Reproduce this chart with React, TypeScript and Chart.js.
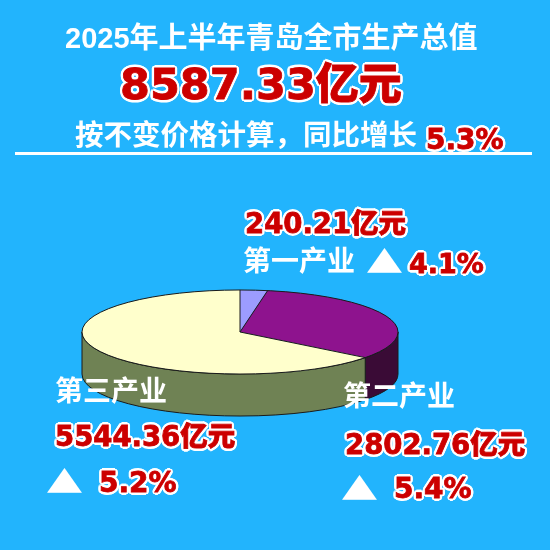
import React, { useEffect, useRef } from "react";
import { Chart, registerables } from "chart.js";

Chart.register(...registerables);

// 2025 H1 Qingdao GDP by sector (100 million yuan), growth in %
const sectors = ["第一产业", "第二产业", "第三产业"];
const values = [240.21, 2802.76, 5544.36];
const growth = [4.1, 5.4, 5.2];
const totalValue = 8587.33;
const totalGrowth = 5.3;

const topColors = ["#9C9CFF", "#8E138E", "#FFFFCC"];
const sideColors = ["#4E4E80", "#3A0B36", "#6F8254"];

const BG = "#22B4FD";
const RED = "#CC0000";
const WHITE_FONT = '"Liberation Sans", Arial, "Noto Sans CJK SC", sans-serif';
const RED_FONT = '"DejaVu Sans", "Noto Sans CJK SC", sans-serif';

// Draws the pie as a tilted disc: rim walls first, then the library's arcs
// squashed vertically, then crisp outlines on top.
const pie3d = {
  id: "pie3d",
  beforeDatasetsDraw(chart: any, _args: any, opts: any) {
    const meta = chart.getDatasetMeta(0);
    const ctx: CanvasRenderingContext2D = chart.ctx;
    const arcs = meta.data;
    if (!arcs.length) return;
    const { x: cx, y: cy, outerRadius: r } = arcs[0].getProps(["x", "y", "outerRadius"], true);
    const ry = r * opts.tilt;
    const depth = opts.depth;
    arcs.forEach((arc: any, i: number) => {
      const { startAngle, endAngle } = arc.getProps(["startAngle", "endAngle"], true);
      for (const shift of [-2 * Math.PI, 0, 2 * Math.PI]) {
        const a = Math.max(startAngle, shift);
        const b = Math.min(endAngle, shift + Math.PI);
        if (b <= a) continue;
        ctx.save();
        ctx.beginPath();
        ctx.ellipse(cx, cy, r, ry, 0, a, b, false);
        ctx.ellipse(cx, cy + depth, r, ry, 0, b, a, true);
        ctx.closePath();
        ctx.fillStyle = opts.sideColors[i];
        ctx.fill();
        ctx.strokeStyle = opts.edge;
        ctx.lineWidth = 1;
        ctx.stroke();
        ctx.restore();
      }
    });
    ctx.save();
    ctx.translate(cx, cy);
    ctx.scale(1, opts.tilt);
    ctx.translate(-cx, -cy);
  },
  afterDatasetsDraw(chart: any, _args: any, opts: any) {
    const ctx: CanvasRenderingContext2D = chart.ctx;
    ctx.restore();
    const meta = chart.getDatasetMeta(0);
    const arcs = meta.data;
    if (!arcs.length) return;
    const { x: cx, y: cy, outerRadius: r } = arcs[0].getProps(["x", "y", "outerRadius"], true);
    const ry = r * opts.tilt;
    ctx.save();
    ctx.strokeStyle = opts.edge;
    ctx.lineWidth = 1;
    ctx.beginPath();
    ctx.ellipse(cx, cy, r, ry, 0, 0, Math.PI * 2);
    ctx.stroke();
    arcs.forEach((arc: any) => {
      const { startAngle } = arc.getProps(["startAngle"], true);
      ctx.beginPath();
      ctx.moveTo(cx, cy);
      ctx.lineTo(cx + r * Math.cos(startAngle), cy + ry * Math.sin(startAngle));
      ctx.stroke();
    });
    ctx.restore();
  },
};

const outline = (w: number) => {
  const parts: string[] = [];
  const steps = 16;
  for (let k = 0; k < steps; k++) {
    const t = (k / steps) * Math.PI * 2;
    parts.push(`${(w * Math.cos(t)).toFixed(2)}px ${(w * Math.sin(t)).toFixed(2)}px 0 #fff`);
  }
  return parts.join(", ");
};

const redStyle = (size: number): React.CSSProperties => ({
  color: RED,
  fontSize: size,
  fontWeight: 900,
  fontFamily: RED_FONT,
  WebkitTextStroke: `0.8px ${RED}`,
  textShadow: outline(2.6),
});

const whiteStyle = (size: number): React.CSSProperties => ({
  color: "#fff",
  fontSize: size,
  fontWeight: 700,
  fontFamily: WHITE_FONT,
});

const abs = (left: number, top: number, extra: React.CSSProperties = {}): React.CSSProperties => ({
  position: "absolute",
  left,
  top,
  lineHeight: 1,
  whiteSpace: "nowrap",
  ...extra,
});

const tri: React.CSSProperties = {
  color: "#fff",
  fontSize: 37,
  fontFamily: '"Noto Sans CJK SC", sans-serif',
  transform: "scaleY(0.82)",
  transformOrigin: "50% 50%",
};

export default function App() {
  const canvasRef = useRef<HTMLCanvasElement | null>(null);

  useEffect(() => {
    const canvas = canvasRef.current;
    if (!canvas) return;
    const chart = new Chart(canvas, {
      type: "pie",
      data: {
        labels: sectors,
        datasets: [
          {
            data: values,
            backgroundColor: topColors,
            borderWidth: 0,
            clip: false,
          } as any,
        ],
      },
      options: {
        responsive: false,
        animation: false,
        events: [],
        layout: { padding: { left: 82, right: 152, top: 174, bottom: 60 } },
        plugins: {
          legend: { display: false },
          tooltip: { enabled: false },
          pie3d: { tilt: 0.266, depth: 42, sideColors, edge: "#1a1a1a" },
        } as any,
      },
      plugins: [pie3d],
    });
    return () => chart.destroy();
  }, []);

  const fmt = (v: number) => `${v.toFixed(2)}亿元`;
  const pct = (v: number) => `${v.toFixed(1)}%`;

  return (
    <div
      style={{
        position: "fixed",
        left: 0,
        top: 0,
        width: 550,
        height: 550,
        background: BG,
        overflow: "hidden",
      }}
    >
      <canvas ref={canvasRef} width={550} height={550} style={{ position: "absolute", left: 0, top: 0 }} />

      <div style={abs(65, 24, whiteStyle(29))}>2025年上半年青岛全市生产总值</div>
      <div style={abs(120, 63, redStyle(43))}>{fmt(totalValue)}</div>
      <div style={abs(75, 121, whiteStyle(28.5))}>按不变价格计算，同比增长</div>
      <div style={abs(426, 126, redStyle(28))}>{pct(totalGrowth)}</div>
      <div style={{ position: "absolute", left: 15, top: 152, width: 517, height: 3, background: "#fff" }} />

      {/* 第一产业 */}
      <div style={abs(245, 210, redStyle(27.5))}>{fmt(values[0])}</div>
      <div style={abs(243, 248, whiteStyle(28))}>{sectors[0]}</div>
      <div style={abs(366, 242, tri)}>▲</div>
      <div style={abs(409, 250, redStyle(27))}>{pct(growth[0])}</div>

      {/* 第三产业 */}
      <div style={abs(55, 378, whiteStyle(28))}>{sectors[2]}</div>
      <div style={abs(55, 423, redStyle(27.5))}>{fmt(values[2])}</div>
      <div style={abs(46, 462, tri)}>▲</div>
      <div style={abs(99, 469, redStyle(28))}>{pct(growth[2])}</div>

      {/* 第二产业 */}
      <div style={abs(343, 383, whiteStyle(28))}>{sectors[1]}</div>
      <div style={abs(345, 431, redStyle(27.5))}>{fmt(values[1])}</div>
      <div style={abs(341, 469, tri)}>▲</div>
      <div style={abs(394, 475, redStyle(28))}>{pct(growth[1])}</div>
    </div>
  );
}
